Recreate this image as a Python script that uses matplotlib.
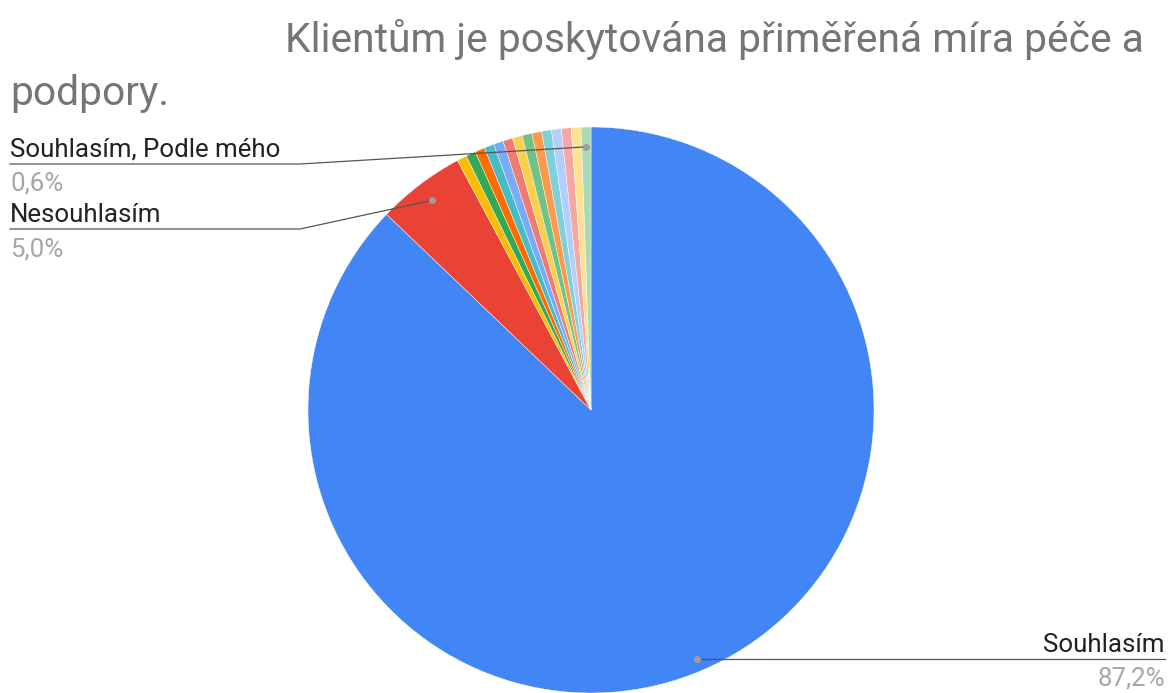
import numpy as np
import matplotlib.pyplot as plt

plt.rcParams['font.family'] = ['Roboto', 'DejaVu Sans']

# response counts, in the order the slices run clockwise from 12 o'clock
counts = [156, 9] + [1] * 14
colors = ['#4285F4', '#EA4335', '#FBBC04', '#34A853', '#FF6D01', '#46BDC6',
          '#7BAAF7', '#F07B72', '#FCD04F', '#71C287', '#FF994D', '#7ED1D7',
          '#B3CEFB', '#F7A7A1', '#FDE293', '#A8DAB5']
# only these slices get a callout: (slice index, label, percent text)
callouts = [(0, 'Souhlasím', '87,2%'),
            (1, 'Nesouhlasím', '5,0%'),
            (15, 'Souhlasím, Podle mého', '0,6%')]

title_line1 = 'Klientům je poskytována přiměřená míra péče a'
title_line2 = 'podpory.'

W, H = 1176, 693
fig = plt.figure(figsize=(W / 100, H / 100), dpi=100)
ax = fig.add_axes([0, 0, 1, 1])

cx, cy, r = 591, 410, 283
# y axis is flipped, so counterclock=True here runs clockwise on screen
wedges, _ = ax.pie(counts, colors=colors, startangle=-90, counterclock=True,
                   center=(cx, cy), radius=r, frame=True,
                   wedgeprops=dict(edgecolor='white', linewidth=0.3))
ax.set_xlim(0, W)
ax.set_ylim(H, 0)
ax.set_aspect('equal')
ax.axis('off')

fig.text(285 / W, 1 - 52 / H, title_line1, fontsize=29.3, color='#757575')
fig.text(10 / W, 1 - 105 / H, title_line2, fontsize=29.3, color='#757575')

label_fs = 18.6
line_col = '#555555'
for idx, name, pct in callouts:
    w = wedges[idx]
    mid = np.deg2rad((w.theta1 + w.theta2) / 2)
    rd = 0.955 * r if idx == 0 else 0.93 * r
    px = cx + rd * np.cos(mid)
    py = cy + rd * np.sin(mid)
    ax.plot(px, py, 'o', ms=4, color='#9e9e9e', zorder=5)
    if idx == 0:
        ly = py
        ax.plot([px, 1165], [py, ly], color=line_col, lw=0.9, zorder=4)
        ax.text(1165, ly - 7, name, ha='right', va='baseline', fontsize=label_fs, color='#222222')
        ax.text(1165, ly + 8, pct, ha='right', va='top', fontsize=label_fs, color='#a6a6a6')
    else:
        ly = 229 if idx == 1 else 164
        elbow = 300
        ax.plot([10, elbow, px], [ly, ly, py], color=line_col, lw=0.9, zorder=4)
        ax.text(10, ly - 7, name, ha='left', va='baseline', fontsize=label_fs, color='#222222')
        ax.text(10, ly + 8, pct, ha='left', va='top', fontsize=label_fs, color='#a6a6a6')

fig.savefig('out.png', dpi=100)
